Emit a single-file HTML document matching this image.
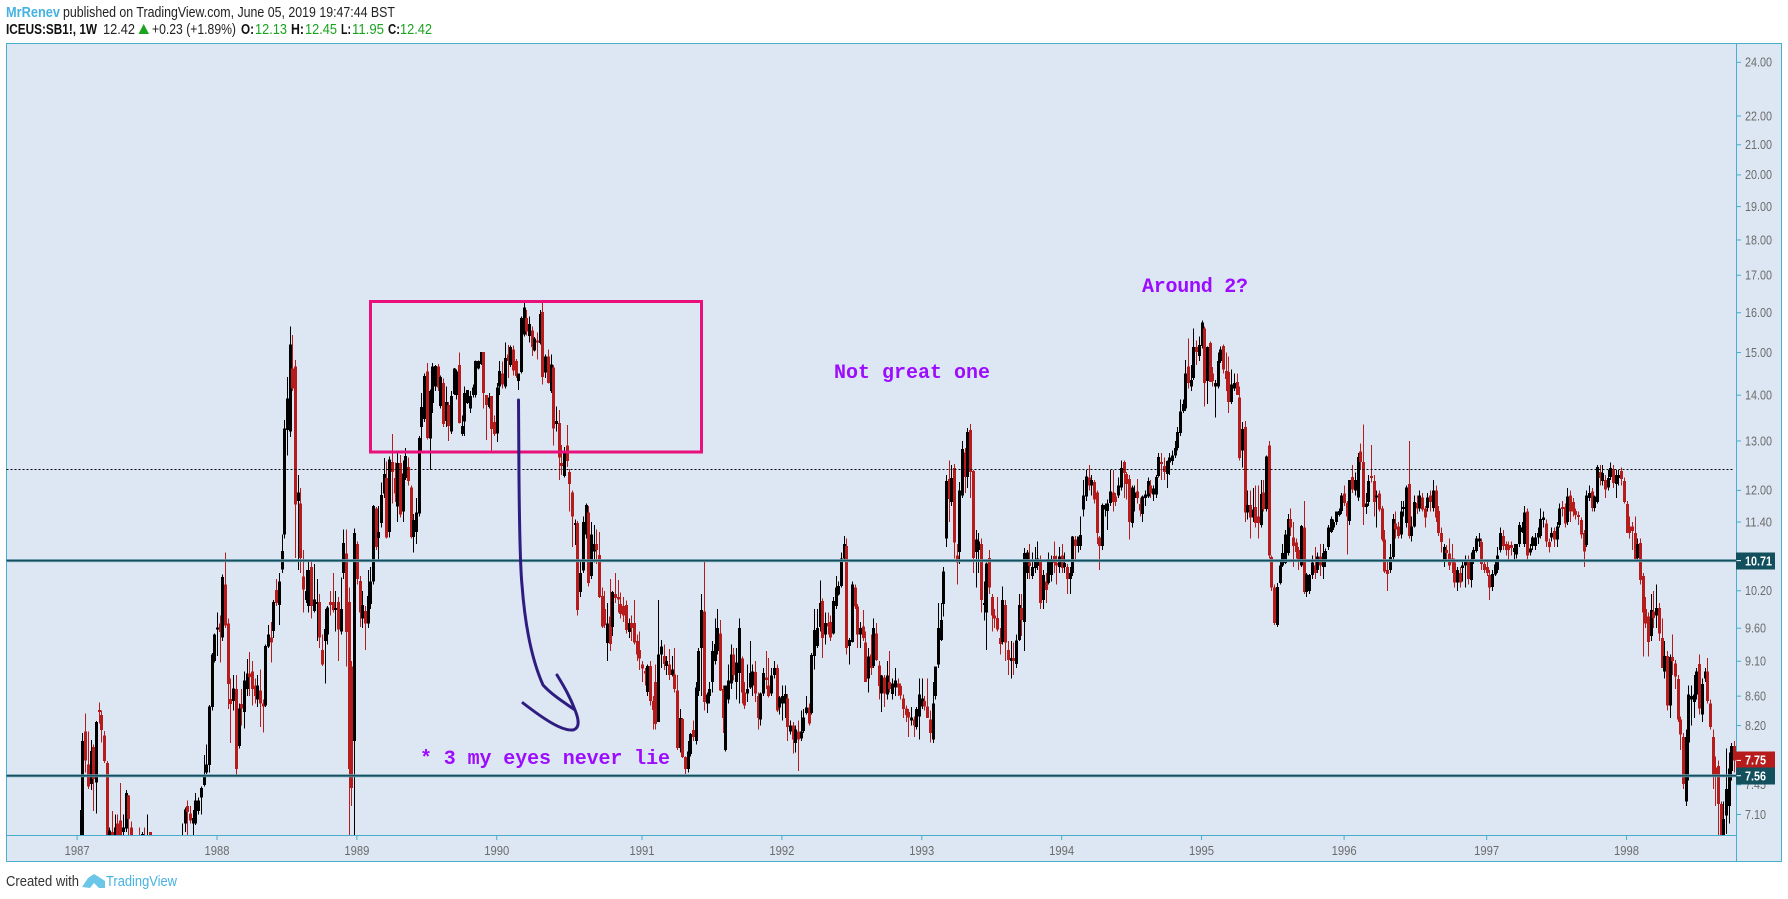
<!DOCTYPE html>
<html lang="en">
<head>
<meta charset="utf-8">
<title>ICEUS:SB1!, 1W chart</title>
<style>
html,body{margin:0;padding:0;background:#fff;width:1788px;height:899px;overflow:hidden}
svg{display:block;font-family:"Liberation Sans",sans-serif}
.hdr{font-size:14.5px;fill:#222}
.b{font-weight:bold;fill:#111}
.g{fill:#1aa31f}
.note{font-family:"Liberation Mono",monospace;font-weight:bold;font-size:20px;fill:#9c0dff}
.ax{font-size:12.5px;fill:#6b6b6b}
.badge{font-size:12.5px;font-weight:bold;fill:#fff}
</style>
</head>
<body>
<svg id="chart" xmlns="http://www.w3.org/2000/svg" width="1788" height="899" viewBox="0 0 1788 899">
  <defs>
    <clipPath id="plot-clip"><rect x="6" y="44" width="1730.5" height="791"/></clipPath>
  </defs>
  <text class="hdr" x="6" y="17" textLength="54" lengthAdjust="spacingAndGlyphs" style="fill:#45b2e2;font-weight:bold">MrRenev</text>
  <text class="hdr" x="63" y="17" textLength="332" lengthAdjust="spacingAndGlyphs">published on TradingView.com, June 05, 2019 19:47:44 BST</text>
  <g>
    <text class="hdr b" x="6" y="34" textLength="91" lengthAdjust="spacingAndGlyphs">ICEUS:SB1!, 1W</text>
    <text class="hdr" x="103" y="34" textLength="32" lengthAdjust="spacingAndGlyphs">12.42</text>
    <polygon points="138.5,34 149,34 143.7,24" fill="#1aa31f"/>
    <text class="hdr" x="152" y="34" textLength="84" lengthAdjust="spacingAndGlyphs">+0.23 (+1.89%)</text>
    <text class="hdr b" x="241" y="34" textLength="13" lengthAdjust="spacingAndGlyphs">O:</text>
    <text class="hdr g" x="255" y="34" textLength="32" lengthAdjust="spacingAndGlyphs">12.13</text>
    <text class="hdr b" x="291" y="34" textLength="13" lengthAdjust="spacingAndGlyphs">H:</text>
    <text class="hdr g" x="305" y="34" textLength="32" lengthAdjust="spacingAndGlyphs">12.45</text>
    <text class="hdr b" x="341" y="34" textLength="10" lengthAdjust="spacingAndGlyphs">L:</text>
    <text class="hdr g" x="352" y="34" textLength="32" lengthAdjust="spacingAndGlyphs">11.95</text>
    <text class="hdr b" x="388" y="34" textLength="12" lengthAdjust="spacingAndGlyphs">C:</text>
    <text class="hdr g" x="400" y="34" textLength="32" lengthAdjust="spacingAndGlyphs">12.42</text>
  </g>
  <rect x="6.5" y="43.5" width="1775" height="818" fill="#dce7f3" stroke="#49aecb" stroke-width="1"/>
  <g id="price-ticks"></g>
  <g id="time-ticks"></g>
  <g id="candles" clip-path="url(#plot-clip)" shape-rendering="crispEdges"></g>
  <g id="levels"></g>
  <line x1="1736.5" y1="43.5" x2="1736.5" y2="861.5" stroke="#49aecb"/>
  <line x1="6.5" y1="835.5" x2="1736.5" y2="835.5" stroke="#49aecb"/>
  <rect x="370.5" y="301.5" width="331" height="150.5" fill="none" stroke="#e9107c" stroke-width="3"/>
  <path d="M518.5 400 L519 480 C519.5 530 520.5 570 522 585 C525 625 531 658 543 685 C552 695 565 703 575 710 C579 720 580 728 573 730 C562 731 545 720 523 703 M575 710 C570 697 565 688 557 675" fill="none" stroke="#2f1c80" stroke-width="3" stroke-linecap="round" stroke-linejoin="round"/>
  <text class="note" x="1142" y="292" textLength="106">Around 2?</text>
  <text class="note" x="834" y="378" textLength="156">Not great one</text>
  <text class="note" x="420" y="764" textLength="250">* 3 my eyes never lie</text>
  <g id="badges"></g>
  <text x="6" y="886" style="font-size:14.5px;fill:#333" textLength="73" lengthAdjust="spacingAndGlyphs">Created with</text>
  <path d="M82 887 L88 878 L94 874 L99 877 L105 881 L105 888 L99 888 L94 883 L90 888 Z" fill="#6cc6e8"/>
  <text x="106" y="886" style="font-size:14.5px;fill:#45b2e2" textLength="71" lengthAdjust="spacingAndGlyphs">TradingView</text>
</svg>
<script>
const opens=[
6.75,6.7,8.12,7.7,7.46,7.92,7.48,8.41,8.34,8.07,
7.72,6.7,6.9,6.8,7.0,7.03,6.9,6.94,7.32,6.95,
6.8,6.7,6.8,6.75,6.85,6.7,6.9,6.8,6.65,6.6,
6.55,6.5,6.6,6.7,6.6,6.7,6.65,6.75,6.8,7.0,
7.2,7.11,7.0,7.0,7.14,7.3,7.45,7.6,7.69,8.45,
9.1,9.6,9.67,9.46,10.3,9.67,8.56,8.53,8.7,7.93,
8.49,8.38,8.7,8.92,8.95,8.75,8.55,8.68,8.5,8.47,
9.32,9.46,9.56,10.21,9.97,10.56,11.17,13.23,13.2,14.62,
14.66,11.8,11.75,10.44,10.05,9.95,10.6,9.87,10.0,10.02,
9.27,9.4,9.5,10.02,10.02,9.9,10.02,9.55,10.5,10.83,
10.02,9.02,8.0,11.0,10.36,9.75,9.87,9.67,9.98,10.35,
11.65,11.11,11.38,11.94,12.24,11.22,12.56,12.24,11.69,12.54,
11.6,12.24,12.46,12.06,11.13,11.22,11.56,13.3,13.47,14.55,
13.05,13.82,14.2,14.66,13.76,14.28,13.43,13.78,13.2,14.03,
14.0,14.7,13.15,13.42,13.82,13.7,14.0,14.0,14.62,14.72,
15.02,14.0,13.73,13.98,13.4,13.16,14.2,14.5,14.2,14.95,
14.7,15.07,14.8,14.33,14.53,15.45,15.86,15.41,15.55,15.05,
15.3,15.23,16.02,14.52,14.9,14.1,14.64,13.36,13.38,12.54,
12.28,12.9,12.36,11.96,11.35,11.38,10.18,10.54,11.17,11.58,
10.45,10.87,11.0,10.81,10.11,9.9,9.37,9.78,9.62,10.15,
10.1,9.98,9.95,9.97,9.54,9.68,9.68,9.4,9.27,9.05,
8.96,8.66,9.03,8.53,8.8,8.25,9.2,9.18,9.03,9.05,
8.9,8.91,8.68,7.91,8.29,7.79,7.64,7.83,8.14,8.0,
8.67,9.3,9.86,8.5,8.6,8.8,9.1,9.25,9.52,8.7,
7.88,8.55,8.78,9.2,8.8,8.93,9.14,8.65,8.64,8.72,
8.75,8.94,8.6,8.28,8.64,8.86,8.75,8.64,8.9,9.0,
8.44,8.5,8.5,8.57,8.12,8.2,7.97,8.12,8.03,8.13,
8.37,8.44,8.37,9.18,9.33,9.62,10.03,9.5,9.68,9.7,
9.52,9.95,10.14,10.28,10.75,10.97,9.33,9.39,10.25,9.94,
9.5,9.63,9.38,8.85,9.2,9.03,9.52,9.04,8.64,8.86,
8.62,8.8,8.63,8.72,8.78,8.74,8.57,8.43,8.38,8.27,
8.28,8.18,8.32,8.46,8.53,8.46,8.28,8.02,8.6,9.05,
9.42,9.98,11.1,12.22,11.78,12.44,10.8,10.86,11.9,12.76,
12.26,13.23,12.38,10.86,10.9,11.0,9.97,9.85,10.76,10.1,
9.8,9.76,9.45,9.39,9.97,9.27,9.1,9.15,9.06,9.42,9.92,
9.7,10.5,10.68,10.45,10.58,10.62,10.72,10.05,10.35,10.33,
10.46,10.79,10.67,10.6,10.8,10.6,10.6,10.4,10.5,11.08,
10.97,10.97,11.63,11.88,12.25,12.1,12.16,11.96,11.12,10.97,
11.63,11.61,11.76,11.96,11.88,11.9,12.06,12.56,12.32,12.22,
11.38,11.85,11.98,11.74,11.55,11.85,11.88,12.1,11.92,11.92,
12.28,12.56,12.48,12.32,12.55,12.58,12.7,12.85,13.17,13.65,
13.7,14.66,14.2,14.4,15.14,14.92,15.16,15.6,14.32,15.23,
14.5,14.2,14.2,14.8,15.16,14.56,14.53,13.85,14.15,14.3,
13.95,12.8,13.3,11.58,11.72,11.48,11.68,11.5,11.35,11.96,
11.64,12.9,10.77,10.25,9.65,10.33,10.63,10.67,10.84,11.46,
11.12,11.03,10.9,10.63,11.3,10.18,10.2,10.46,10.63,
10.55,10.78,10.6,10.72,10.95,11.22,11.3,11.4,11.53,11.61,
11.94,11.76,11.42,12.26,12.0,11.86,12.78,12.56,11.68,11.78,
12.28,12.18,11.86,11.94,11.65,11.08,10.55,10.55,10.77,11.37,
11.32,11.17,11.64,11.38,12.12,11.15,11.32,11.76,11.65,11.86,
11.65,11.66,11.9,11.66,12.0,11.61,11.2,10.72,10.9,10.83,
10.75,10.68,10.34,10.5,10.58,10.63,10.7,10.38,10.74,10.88,
11.05,11.04,10.65,10.6,10.46,10.26,10.47,10.55,10.9,11.15,
11.0,10.98,10.98,10.86,10.82,11.0,11.22,11.0,11.6,10.85,
10.97,10.97,11.12,11.15,11.44,11.37,11.04,11.12,11.24,11.08,
11.35,11.68,11.68,11.4,11.9,11.78,11.61,11.53,11.44,11.2,
10.98,11.85,11.98,11.66,11.78,12.36,12.18,12.2,12.06,12.26,
12.42,12.12,12.24,12.38,12.18,11.74,11.32,11.32,11.2,10.76,
11.02,10.45,9.9,9.78,9.48,9.86,9.8,9.92,9.45,8.95,
9.18,8.47,9.16,9.07,8.84,8.28,8.05,7.25,7.98,8.55,
8.52,8.62,9.06,8.35,8.85,8.95,8.5,8.05,7.66,7.68,
7.22,6.8,7.09,7.2,7.62,7.93];
const highs=[
7.15,8.1,8.36,8.12,8.01,7.95,8.26,8.51,8.4,8.13,
7.74,6.95,7.14,7.1,7.1,7.47,7.1,7.39,7.33,7.02,
6.85,6.84,6.95,6.9,6.95,7.1,6.9,6.84,6.8,6.75,
6.7,6.7,6.75,6.8,6.8,6.82,6.8,6.84,7.0,7.18,
7.26,7.2,7.15,7.35,7.3,7.43,7.82,7.95,8.48,9.22,
9.52,9.85,9.8,10.47,10.85,9.75,8.85,8.9,8.9,8.5,
8.7,8.95,9.13,9.24,9.1,8.85,8.9,8.98,8.55,9.35,
9.65,9.7,10.05,10.4,10.5,11.17,13.45,14.42,15.65,15.43,
14.82,12.3,12.05,10.9,10.55,10.7,10.7,10.65,10.4,10.15,
9.5,9.9,9.95,10.2,10.5,10.2,10.1,10.42,11.26,11.26,
10.25,9.1,11.28,11.05,10.45,10.2,9.95,10.55,10.6,11.72,
11.68,11.7,12.15,12.65,12.57,12.68,13.15,12.55,12.77,12.71,
12.6,12.85,12.66,12.1,11.55,11.85,13.1,14.05,14.5,14.75,
14.13,14.75,14.7,14.72,14.45,14.38,14.2,13.85,14.1,14.63,
14.6,15.0,13.55,14.2,14.12,14.1,14.25,14.81,14.81,15.02,
15.02,14.0,14.05,13.98,13.55,14.28,14.8,14.78,15.25,15.18,
15.17,15.17,14.85,14.5,15.9,16.28,16.07,15.9,15.65,15.38,
15.5,16.07,16.28,14.95,15.07,14.95,14.7,13.75,13.67,12.92,
12.87,13.34,12.42,12.0,11.45,11.42,10.7,11.5,11.75,11.7,
11.4,11.35,11.26,11.22,10.25,10.2,10.0,10.4,10.2,10.5,
10.38,10.17,10.1,10.04,9.75,9.8,10.05,9.5,9.55,9.1,
9.0,9.05,9.1,8.6,9.05,10.05,9.42,9.35,9.18,9.28,
9.18,9.3,8.9,8.42,8.3,7.8,8.0,8.1,8.27,8.8,
9.3,10.15,10.7,8.65,8.8,9.4,9.75,9.9,9.73,8.75,
8.75,9.05,9.35,9.3,9.3,9.75,9.17,8.8,9.05,9.4,
9.05,9.1,8.65,8.65,9.0,9.25,9.15,9.0,9.1,9.05,
8.6,8.75,8.75,8.63,8.27,8.25,8.2,8.27,8.4,8.42,
8.6,8.5,9.22,9.9,9.9,10.37,10.07,9.85,9.85,9.8,
10.1,10.45,10.35,10.85,11.15,11.1,9.45,10.35,10.3,9.98,
9.7,9.89,9.55,9.3,9.5,9.75,9.68,9.1,8.9,8.9,
9.1,9.25,8.85,9.0,8.85,8.78,8.62,8.47,8.42,8.45,
8.32,8.45,8.85,8.85,8.6,8.85,8.4,8.8,9.02,10.0,
10.0,10.6,12.3,12.6,12.5,12.52,11.0,12.16,13.0,12.85,
13.28,13.36,12.4,11.25,11.2,11.1,10.35,10.68,10.9,10.15,
9.9,10.1,9.6,10.27,10.05,9.4,9.4,9.38,9.5,10.15,10.15,
10.93,10.9,11.0,10.85,10.95,11.05,10.8,10.55,10.5,10.85,
10.8,11.05,10.8,10.95,11.0,10.85,10.65,10.6,11.15,11.15,
11.14,11.5,12.2,12.4,12.5,12.3,12.2,12.0,11.15,11.75,
11.75,11.82,12.4,12.4,11.95,12.25,12.6,12.6,12.36,12.3,
12.1,12.1,12.22,11.85,11.9,12.0,12.25,12.2,12.1,12.3,
12.75,12.75,12.66,12.6,12.75,12.8,13.0,13.3,13.9,13.9,
14.82,15.35,14.7,15.6,15.3,15.4,15.8,15.65,15.15,15.27,
14.65,14.35,15.0,15.15,15.2,15.0,14.9,14.6,14.5,14.5,
14.2,13.4,13.43,12.0,12.0,12.05,12.1,12.1,12.2,12.2,
12.7,13.0,10.8,10.3,10.33,10.7,11.0,11.25,11.55,11.65,
11.4,11.1,10.95,11.35,11.8,10.5,10.48,10.8,10.95,
10.85,11.0,11.0,10.92,11.35,11.5,11.45,11.6,11.65,11.95,
12.1,11.8,12.2,12.5,12.35,12.75,12.95,13.35,11.95,12.3,
12.92,12.3,12.0,12.0,11.7,11.25,10.7,11.0,11.55,11.6,
11.4,11.8,11.8,12.1,13.0,11.5,11.9,11.9,12.0,11.95,
11.7,11.95,12.0,12.2,12.1,11.7,11.3,11.0,10.98,11.1,
11.0,10.75,10.6,10.6,10.7,10.8,10.8,10.85,10.95,11.15,
11.2,11.1,10.7,10.7,10.55,10.55,10.7,10.95,11.3,11.25,
11.05,11.05,11.05,11.0,11.0,11.4,11.4,11.7,11.65,11.0,
11.15,11.2,11.3,11.65,11.6,11.45,11.1,11.3,11.3,11.4,
11.75,11.8,11.75,12.05,12.0,11.85,11.65,11.6,11.48,11.25,
12.0,12.1,12.05,11.9,12.5,12.5,12.5,12.3,12.4,12.55,
12.5,12.4,12.4,12.45,12.25,11.8,11.5,11.4,11.5,11.1,
11.1,10.5,10.1,9.85,10.15,10.2,10.3,10.0,9.75,9.4,
9.25,9.2,9.5,9.12,8.9,8.32,8.1,8.15,8.75,8.75,
8.9,9.0,9.2,8.85,9.0,9.15,8.55,8.15,7.8,7.75,
7.25,7.25,7.9,7.85,7.97,8.0];
const lows=[
6.6,6.6,7.6,7.4,7.39,7.14,7.11,8.23,7.98,7.72,
6.7,6.6,6.7,6.7,6.7,6.7,6.85,6.9,6.8,6.75,
6.6,6.6,6.7,6.7,6.7,6.65,6.7,6.6,6.5,6.5,
6.45,6.4,6.5,6.55,6.5,6.6,6.55,6.65,6.7,6.9,
6.8,7.0,6.85,6.98,7.1,7.1,7.43,7.58,7.6,8.4,
9.08,9.18,9.08,9.4,9.6,8.42,7.97,8.4,7.55,7.9,
8.2,8.16,8.6,8.6,8.47,8.5,8.45,8.18,8.11,8.45,
9.3,9.08,9.45,9.95,9.65,10.5,11.1,12.7,13.08,14.1,
10.76,10.55,10.5,9.85,10.0,9.85,9.75,9.85,9.4,9.3,
9.03,8.78,9.35,9.8,9.85,9.55,9.1,9.5,10.4,9.02,
6.7,7.2,6.7,10.3,9.62,9.6,9.27,9.6,9.9,10.3,
10.9,10.7,11.3,11.85,11.1,11.12,11.75,11.78,11.4,11.48,
11.4,12.2,12.1,11.1,10.85,11.0,11.5,12.75,13.4,13.03,
12.4,13.6,14.1,14.1,13.7,13.3,13.3,13.0,13.15,14.0,
13.9,13.37,13.1,13.1,13.8,13.6,13.95,13.95,14.6,14.7,
13.7,13.02,13.7,12.75,13.1,12.98,14.0,14.15,14.15,14.4,
14.65,14.45,14.4,14.12,14.5,15.4,15.42,15.25,14.92,15.03,
14.83,15.2,14.25,14.4,14.27,14.05,12.9,13.2,12.2,12.3,
12.25,12.46,11.6,10.95,10.98,9.8,10.1,10.5,11.1,10.27,
10.4,10.68,10.65,10.08,9.6,9.6,9.1,9.25,9.48,10.0,
9.85,9.75,9.7,9.52,9.45,9.4,9.35,9.1,8.97,8.8,
8.75,8.6,8.47,8.15,8.15,8.25,9.0,8.97,8.9,8.83,
8.88,8.65,7.88,7.85,7.78,7.58,7.6,7.8,8.0,7.95,
8.6,8.6,8.4,8.37,8.5,8.65,9.05,9.2,8.67,8.1,
7.86,8.5,8.7,8.82,8.55,8.5,8.5,8.42,8.52,8.7,
8.6,8.52,8.15,8.2,8.6,8.7,8.58,8.6,8.85,8.38,
8.35,8.27,8.3,8.0,8.08,7.84,7.85,7.62,8.0,8.1,
8.35,8.2,8.35,8.98,9.3,9.55,9.15,9.35,9.5,9.4,
9.5,9.9,10.12,10.25,10.7,9.2,9.05,9.38,9.9,9.3,
9.3,9.4,8.8,8.65,8.9,9.0,9.1,8.55,8.38,8.45,
8.55,8.65,8.55,8.6,8.6,8.55,8.3,8.25,8.05,8.2,
8.05,8.15,8.02,8.42,8.4,8.3,7.98,7.97,8.55,9.0,
9.4,9.78,10.95,11.4,11.7,10.75,10.3,10.65,11.85,11.95,
12.05,11.85,10.5,10.25,10.5,9.85,9.72,9.27,10.15,9.55,
9.6,9.55,9.2,9.35,9.1,8.9,8.85,8.9,9.0,9.4,9.48,
9.25,10.4,10.4,10.4,10.5,10.55,9.9,9.9,10.0,10.3,
10.35,10.5,10.3,10.5,10.5,10.5,10.15,10.15,10.45,10.7,
10.85,10.9,11.5,11.8,12.0,11.9,11.75,11.0,10.55,10.9,
11.5,11.25,11.7,11.6,11.7,11.85,12.0,11.85,11.82,11.08,
11.3,11.6,11.75,11.5,11.4,11.7,11.85,11.85,11.8,11.85,
12.25,12.2,12.2,12.05,12.3,12.5,12.65,12.8,13.1,13.6,
13.65,14.15,14.1,14.35,14.7,14.8,15.1,13.75,13.8,14.3,
14.2,13.5,14.15,14.75,14.5,14.1,13.6,13.8,14.1,14.0,
12.6,12.45,11.4,11.45,11.1,11.4,11.3,11.1,11.3,11.6,
11.6,10.75,10.2,9.65,9.62,10.3,10.6,10.65,10.8,11.15,
10.6,10.75,10.55,10.6,10.15,10.1,10.15,10.4,10.4,
10.5,10.45,10.4,10.6,10.9,11.2,11.25,11.35,11.5,11.55,
11.7,10.82,11.35,11.95,11.9,11.8,12.4,11.35,11.55,11.7,
12.15,11.5,11.3,11.6,11.05,10.5,10.2,10.5,10.7,11.1,
11.1,11.1,11.5,11.3,11.1,11.05,11.3,11.55,11.6,11.6,
11.3,11.6,11.6,11.6,11.4,11.15,10.85,10.6,10.7,10.55,
10.5,10.25,10.2,10.25,10.35,10.25,10.3,10.25,10.65,10.85,
10.95,10.55,10.5,10.45,10.05,10.2,10.45,10.5,10.85,10.9,
10.8,10.7,10.8,10.7,10.75,10.95,11.2,10.95,10.7,10.8,
10.9,10.9,11.0,11.1,11.3,10.95,10.85,11.05,10.95,10.95,
11.3,11.5,11.3,11.35,11.4,11.5,11.45,11.35,11.1,10.6,
10.95,11.8,11.6,11.6,11.75,12.1,12.1,11.85,12.0,12.2,
12.05,11.85,12.1,12.1,11.75,11.2,11.1,10.9,10.7,10.7,
10.3,9.17,9.6,9.17,9.4,9.6,9.6,9.4,9.0,8.85,
8.4,8.3,8.9,8.7,8.25,7.88,7.4,7.2,7.5,8.2,
8.3,8.55,8.35,8.25,8.8,8.5,8.15,7.4,7.2,6.85,
6.8,6.7,6.88,7.0,7.5,7.6];
const closes=[
6.8,8.0,7.75,7.43,7.87,7.52,8.25,8.38,8.14,7.74,
6.85,6.92,6.8,6.95,6.8,6.8,6.95,7.35,7.05,6.8,
6.7,6.75,6.75,6.88,6.75,6.78,6.8,6.65,6.6,6.55,
6.5,6.6,6.7,6.6,6.7,6.65,6.75,6.8,6.85,7.16,
7.13,7.03,7.06,7.26,7.26,7.41,7.56,7.7,8.46,9.2,
9.5,9.61,9.54,10.43,9.64,8.77,8.49,8.71,7.64,8.43,
8.43,8.82,8.92,8.87,8.7,8.6,8.75,8.5,8.46,9.33,
9.5,9.38,10.02,10.0,10.35,10.88,13.27,13.92,15.2,14.15,
11.73,11.96,10.76,10.22,10.2,10.55,9.95,10.06,10.02,9.46,
9.05,9.59,9.93,9.97,9.89,9.92,9.58,9.9,11.02,9.54,
7.64,7.41,11.2,10.4,9.85,9.97,9.67,10.11,10.35,11.7,
10.95,11.22,11.91,12.32,11.12,12.62,12.36,11.94,12.54,11.54,
12.33,12.69,12.18,11.13,11.44,11.58,13.06,13.74,14.44,13.06,
14.1,14.66,14.68,14.17,14.42,13.36,13.85,13.32,13.98,14.62,
14.55,13.38,13.32,14.05,14.12,13.98,14.17,14.8,14.8,15.02,
14.05,13.78,13.95,13.25,13.15,14.17,14.56,14.25,14.87,14.8,
15.14,14.57,14.44,14.5,15.87,16.14,15.52,15.71,15.13,15.35,
15.25,15.97,14.42,14.9,14.28,14.71,13.27,13.43,12.66,12.48,
12.77,12.58,12.12,11.5,11.38,9.89,10.5,11.4,11.72,10.33,
11.17,11.0,10.9,10.1,9.63,9.65,9.67,9.36,10.18,10.08,
10.06,9.82,9.8,9.57,9.68,9.6,9.38,9.2,9.14,8.99,
8.92,9.03,8.53,8.41,8.22,9.2,9.32,9.06,9.1,8.9,
8.98,8.7,7.91,8.3,7.79,7.64,7.86,8.09,8.05,8.72,
9.25,9.89,8.52,8.62,8.7,9.25,9.36,9.6,8.68,8.3,
8.75,8.82,9.2,8.9,9.08,9.6,8.65,8.47,8.7,8.93,
8.95,8.64,8.3,8.64,8.93,8.83,8.6,8.89,9.0,8.4,
8.58,8.6,8.63,8.18,8.2,8.02,8.15,8.02,8.12,8.31,
8.44,8.23,9.19,9.57,9.6,10.0,9.45,9.68,9.63,9.46,
10.03,10.25,10.28,10.75,11.0,9.3,9.42,10.3,9.94,9.5,
9.6,9.45,8.8,9.17,9.0,9.6,9.12,8.74,8.89,8.64,
8.89,8.7,8.78,8.82,8.72,8.61,8.42,8.34,8.31,8.31,
8.2,8.42,8.62,8.57,8.46,8.3,8.1,8.5,9.02,9.6,
9.73,10.52,12.18,11.83,12.24,11.03,10.68,12.0,12.83,12.26,
13.19,12.36,10.76,11.08,11.05,10.05,10.0,10.66,10.25,9.8,
9.75,9.58,9.36,10.05,9.38,9.12,9.15,9.1,9.41,9.97,9.73,
10.84,10.85,10.62,10.6,10.72,10.75,10.0,10.46,10.21,10.74,
10.74,10.67,10.63,10.78,10.58,10.67,10.4,10.5,11.14,10.97,
11.14,11.16,11.9,12.27,12.1,12.2,11.82,11.2,10.97,11.72,
11.72,11.75,11.98,11.78,11.78,12.1,12.44,12.34,12.12,11.4,
12.06,11.96,11.85,11.62,11.88,11.92,12.18,11.94,12.04,12.26,
12.67,12.52,12.36,12.58,12.66,12.7,12.85,13.19,13.63,13.8,
14.5,14.28,14.35,15.14,15.02,15.18,15.75,14.28,15.14,14.3,
14.32,14.28,14.8,15.07,14.6,14.37,13.85,14.25,14.28,14.0,
12.65,13.25,11.58,11.72,11.48,11.63,11.38,11.38,11.93,11.64,
12.68,10.8,10.25,9.68,10.26,10.63,10.84,11.17,11.46,11.3,
10.97,10.86,10.72,11.33,10.18,10.47,10.46,10.68,10.5,
10.78,10.63,10.84,10.88,11.3,11.46,11.4,11.6,11.61,11.9,
11.76,11.5,12.2,12.02,12.2,12.67,12.56,11.68,11.75,12.18,
12.24,11.78,11.9,11.63,11.08,10.52,10.48,10.77,11.46,11.26,
11.15,11.6,11.68,12.06,11.15,11.32,11.78,11.65,11.9,11.63,
11.48,11.86,11.78,12.0,11.48,11.2,11.04,10.95,10.84,10.63,
10.68,10.34,10.55,10.34,10.63,10.72,10.4,10.74,10.9,11.1,
11.1,10.65,10.55,10.5,10.25,10.48,10.64,10.8,11.2,10.97,
10.9,10.9,10.93,10.93,11.0,11.35,11.3,11.58,10.8,10.92,
11.12,11.12,11.2,11.46,11.48,11.05,10.95,11.2,11.08,11.32,
11.65,11.64,11.37,11.88,11.6,11.6,11.53,11.49,11.17,10.87,
11.9,11.95,11.66,11.88,12.46,12.24,12.34,12.02,12.24,12.44,
12.14,12.3,12.3,12.22,11.78,11.2,11.2,11.24,10.74,11.0,
10.38,9.85,9.67,9.39,9.89,9.76,9.92,9.52,9.0,9.18,
8.47,9.16,9.1,8.88,8.28,8.08,7.46,8.05,8.62,8.6,
8.62,8.95,8.43,8.77,8.95,8.53,8.18,7.56,7.57,7.22,
6.87,7.05,7.4,7.65,7.93,7.75];
const priceTickValues=[24,22,21,20,19,18,17,16,15,14,13,12,11.4,10.2,9.6,9.1,8.6,8.2,7.45,7.1];
const priceTickLabels=["24.00","22.00","21.00","20.00","19.00","18.00","17.00","16.00","15.00","14.00","13.00","12.00","11.40","10.20","9.60","9.10","8.60","8.20","7.45","7.10"];
const yearLabels=["1987","1988","1989","1990","1991","1992","1993","1994","1995","1996","1997","1998"];
const yearWeeks=[-1,51,103,155,209,261,313,365,417,470,523,575];
const dottedLevels=[12.42];
const solidLevels=[10.71,7.56];
const badgeValues=[10.71,7.75,7.56];
const badgeLabels=["10.71","7.75","7.56"];
const badgeKinds=["level","last","level"];

const NS="http://www.w3.org/2000/svg";
function yScale(p){return 62.3+617.6*Math.log(24/p);}
function xScale(i){return 79.8+2.69*i;}
function make(tag,attrs,parent){
  const el=document.createElementNS(NS,tag);
  for(const k in attrs){el.setAttribute(k,attrs[k]);}
  parent.appendChild(el);
  return el;
}
const candleGroup=document.getElementById("candles");
const barCount=closes.length;
for(let i=0;i<barCount;i++){
  const color=closes[i]>=opens[i]?"#000000":"#b71c1c";
  const cx=Math.round(xScale(i));
  const top=yScale(Math.max(opens[i],closes[i]));
  const bot=yScale(Math.min(opens[i],closes[i]));
  const bar=make("g",{},candleGroup);
  
  
  const wick=make("rect",{x:cx,y:yScale(highs[i]),width:1,height:Math.max(1,yScale(lows[i])-yScale(highs[i])),fill:color},bar);
  
  
  const body=make("rect",{x:cx-1,y:top,width:3,height:Math.max(2,bot-top),fill:color},bar);
  
  
}
const priceGroup=document.getElementById("price-ticks");
priceTickValues.forEach(function(v,n){
  const y=yScale(v);
  const tick=make("line",{x1:1736.5,x2:1741,y1:y,y2:y,stroke:"#49aecb"},priceGroup);
  
  
  const label=make("text",{x:1745,y:y+4.3,"class":"ax",textLength:priceTickLabels[n].length>4?27:21,lengthAdjust:"spacingAndGlyphs"},priceGroup);
  
  
  label.textContent=priceTickLabels[n];
});
const timeGroup=document.getElementById("time-ticks");
yearLabels.forEach(function(t,n){
  const x=xScale(yearWeeks[n]);
  const tick=make("line",{x1:x,x2:x,y1:835.5,y2:840,stroke:"#49aecb"},timeGroup);
  
  
  const label=make("text",{x:x-12.5,y:855,"class":"ax",textLength:25,lengthAdjust:"spacingAndGlyphs"},timeGroup);
  
  
  label.textContent=t;
});
const levelGroup=document.getElementById("levels");
dottedLevels.forEach(function(v){
  const y=Math.round(yScale(v))+0.5;
  const line=make("line",{x1:6.5,x2:1734,y1:y,y2:y,stroke:"#000",'stroke-width':1,'stroke-dasharray':"2 2"},levelGroup);
  
  
});
solidLevels.forEach(function(v){
  const y=yScale(v);
  const halo=make("line",{x1:6.5,x2:1736,y1:y,y2:y,stroke:"#6f9fb0",'stroke-width':3},levelGroup);
  
  
  const line=make("line",{x1:6.5,x2:1736,y1:y,y2:y,stroke:"#164f5e",'stroke-width':1.5},levelGroup);
  
  
});
const badgeGroup=document.getElementById("badges");
badgeValues.forEach(function(v,n){
  const y=yScale(v);
  const fill=badgeKinds[n]==="last"?"#b71c1c":"#12505e";
  const w=39;
  const bg=make("rect",{x:1736,y:Math.round(y)-8.5,width:w,height:17,fill:fill},badgeGroup);
  
  
  const tick=make("line",{x1:1736.5,x2:1741,y1:y,y2:y,stroke:"#fff"},badgeGroup);
  
  
  const label=make("text",{x:1745,y:Math.round(y)+4.5,"class":"badge",textLength:badgeLabels[n].length>4?27:21,lengthAdjust:"spacingAndGlyphs"},badgeGroup);
  
  
  label.textContent=badgeLabels[n];
});
</script>
</body>
</html>
